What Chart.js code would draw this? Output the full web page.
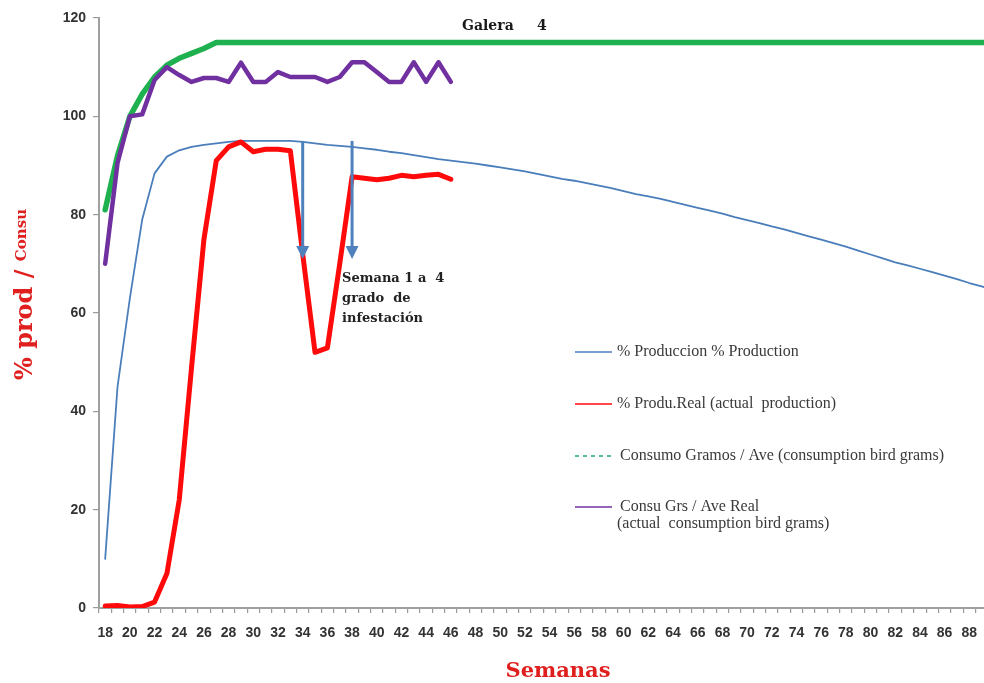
<!DOCTYPE html>
<html>
<head>
<meta charset="utf-8">
<script src="https://cdn.jsdelivr.net/npm/chart.js@4/dist/chart.umd.min.js"></script>
<style>
  html, body { margin: 0; padding: 0; background: #fff; overflow: hidden; }
  #wrap { width: 984px; height: 683px; overflow: hidden; }
  #c { display: block; }
</style>
</head>
<body>
<div id="wrap"><canvas id="c" width="1006" height="683"></canvas></div>
<script>
// ---- Data ----
const weeks = [];
for (let w = 18; w <= 90; w++) weeks.push(w);
const lastLabelledWeek = 88;

const produccionStd = [
  10, 45, 63, 79, 88.4, 91.8, 93.1, 93.8, 94.2, 94.5,
  94.8, 95, 95, 95, 95, 95, 94.8, 94.5, 94.2, 94.0,
  93.8, 93.5, 93.2, 92.8, 92.5, 92.1, 91.7, 91.3, 91.0, 90.7,
  90.4, 90.0, 89.6, 89.2, 88.8, 88.3, 87.8, 87.3, 86.9, 86.4,
  85.9, 85.4, 84.8, 84.2, 83.7, 83.2, 82.6, 82.0, 81.4, 80.8,
  80.2, 79.5, 78.9, 78.3, 77.6, 77.0, 76.3, 75.6, 74.9, 74.2,
  73.5, 72.7, 71.9, 71.1, 70.3, 69.7, 69.0, 68.3, 67.6, 66.9,
  66.1, 65.4, 64.6
];
const produReal = [
  0.4, 0.5, 0.2, 0.3, 1.2, 7, 22, 49, 75, 91,
  93.8, 94.8, 92.8, 93.3, 93.3, 93.0, 72, 52, 52.9, 70,
  87.7, 87.4, 87.1, 87.4, 88, 87.7, 88, 88.2, 87.2
];
const consumoStd = [
  81, 92, 100, 104.5, 108, 110.4, 111.8, 112.8, 113.8, 115,
  115, 115, 115, 115, 115, 115, 115, 115, 115, 115,
  115, 115, 115, 115, 115, 115, 115, 115, 115, 115,
  115, 115, 115, 115, 115, 115, 115, 115, 115, 115,
  115, 115, 115, 115, 115, 115, 115, 115, 115, 115,
  115, 115, 115, 115, 115, 115, 115, 115, 115, 115,
  115, 115, 115, 115, 115, 115, 115, 115, 115, 115,
  115, 115, 115
];
const consumoReal = [
  70, 90.5, 100, 100.4, 107.4, 110, 108.4, 107, 107.8, 107.8,
  107, 110.9, 107, 107, 109, 108, 108, 108, 107, 108,
  111, 111, 109, 107, 107, 111, 107, 111, 107
];
const yTicks = [0, 20, 40, 60, 80, 100, 120];
const seriesNames = [
  '% Produccion % Production',
  '% Produ.Real (actual  production)',
  'Consumo Gramos / Ave (consumption bird grams)',
  'Consu Grs / Ave Real'
];
const arrowWeeks = [34, 38];
const arrowFrom = 95;
const arrowTo = 71;

// ---- Colors ----
const C_BLUE = '#4a7ebb', C_RED = '#ff0a0a', C_GREEN = '#1fb04f', C_PURPLE = '#7030a0';

const overlay = {
  id: 'overlay',
  afterDatasetsDraw(chart) {
    const ctx = chart.ctx;
    const xs = chart.scales.x, ys = chart.scales.y;
    ctx.save();
    ctx.strokeStyle = '#4f81bd';
    ctx.fillStyle = '#4f81bd';
    ctx.lineWidth = 3;
    arrowWeeks.forEach(w => {
      const x = xs.getPixelForValue(weeks.indexOf(w));
      const y1 = ys.getPixelForValue(arrowFrom);
      const y2 = ys.getPixelForValue(arrowTo);
      ctx.beginPath();
      ctx.moveTo(x, y1);
      ctx.lineTo(x, y2 - 12);
      ctx.stroke();
      ctx.beginPath();
      ctx.moveTo(x - 6.5, y2 - 13);
      ctx.lineTo(x + 6.5, y2 - 13);
      ctx.lineTo(x, y2);
      ctx.closePath();
      ctx.fill();
    });
    ctx.restore();
  },
  afterDraw(chart) {
    const ctx = chart.ctx;
    const xs = chart.scales.x, ys = chart.scales.y;
    ctx.save();
    // annotation
    ctx.fillStyle = '#222';
    ctx.font = 'bold 13px "DejaVu Serif"';
    ctx.textBaseline = 'middle';
    ctx.textAlign = 'left';
    const ax = xs.getPixelForValue(weeks.indexOf(arrowWeeks[1])) - 10;
    const ay = ys.getPixelForValue(67);
    ctx.fillText('Semana 1 a  4', ax, ay);
    ctx.fillText('grado  de', ax, ay + 20);
    ctx.fillText('infestación', ax, ay + 40);

    // Galera 4
    ctx.fillStyle = '#1a1a1a';
    ctx.font = 'bold 14px "DejaVu Serif"';
    ctx.fillText('Galera', 462, 26);
    ctx.fillText('4', 537, 26);

    // x title
    ctx.fillStyle = '#e0201f';
    ctx.font = 'bold 21px "DejaVu Serif"';
    ctx.textAlign = 'center';
    ctx.textBaseline = 'alphabetic';
    ctx.fillText('Semanas', 558, 677);

    // y title
    ctx.save();
    ctx.translate(0, 380);
    ctx.rotate(-Math.PI / 2);
    ctx.textAlign = 'left';
    ctx.font = 'bold 24px "DejaVu Serif"';
    const big = '% prod / ';
    ctx.fillText(big, 0, 32);
    const wb = ctx.measureText(big).width;
    ctx.font = 'bold 15px "DejaVu Serif"';
    ctx.fillText('Consu', wb, 26);
    ctx.restore();

    // legend
    const rows = [352, 404, 456, 507];
    const cols = [C_BLUE, C_RED, '#2fb07a', C_PURPLE];
    ctx.font = '16px "Liberation Serif"';
    ctx.textAlign = 'left';
    ctx.textBaseline = 'middle';
    rows.forEach((y, i) => {
      ctx.strokeStyle = cols[i];
      ctx.lineWidth = 1.6;
      ctx.setLineDash(i === 2 ? [4, 4] : []);
      ctx.beginPath();
      ctx.moveTo(575, y);
      ctx.lineTo(612, y);
      ctx.stroke();
      ctx.setLineDash([]);
      ctx.fillStyle = '#3a3a3a';
      ctx.fillText(seriesNames[i], i >= 2 ? 620 : 617, y);
    });
    ctx.fillText('(actual  consumption bird grams)', 617, 524);
    ctx.restore();
  }
};

const common = { pointRadius: 0, pointHoverRadius: 0, tension: 0, fill: false,
  borderJoinStyle: 'round', borderCapStyle: 'round' };

new Chart(document.getElementById('c'), {
  type: 'line',
  data: {
    labels: weeks.map(String),
    datasets: [
      Object.assign({ label: seriesNames[0], data: produccionStd, borderColor: C_BLUE, borderWidth: 1.8, order: 4 }, common),
      Object.assign({ label: seriesNames[1], data: produReal, borderColor: C_RED, borderWidth: 5, order: 1 }, common),
      Object.assign({ label: seriesNames[2], data: consumoStd, borderColor: C_GREEN, borderWidth: 5.5, order: 3 }, common),
      Object.assign({ label: seriesNames[3], data: consumoReal, borderColor: C_PURPLE, borderWidth: 4.5, order: 2 }, common)
    ]
  },
  options: {
    responsive: false,
    animation: false,
    events: [],
    layout: { padding: { top: 18, right: 0, left: 0, bottom: 0 } },
    plugins: { legend: { display: false }, tooltip: { enabled: false }, title: { display: false } },
    scales: {
      x: {
        type: 'category',
        offset: true,
        grid: { display: true, drawOnChartArea: false, drawTicks: true, tickLength: 5, color: '#9a9a9a', offset: true, lineWidth: 1.2 },
        border: { display: true, color: '#a0a0a0', width: 2 },
        ticks: {
          autoSkip: false, maxRotation: 0, minRotation: 0, padding: 12,
          color: '#333', font: { family: '"Liberation Sans", Arial, sans-serif', size: 14, weight: 'bold' },
          callback: (v, i) => (weeks[i] % 2 === 0 && weeks[i] <= lastLabelledWeek ? String(weeks[i]) : '')
        },
        afterFit: s => { s.height = 75; }
      },
      y: {
        min: 0, max: 120,
        afterBuildTicks: s => { s.ticks = yTicks.map(v => ({ value: v })); },
        grid: { display: true, drawOnChartArea: false, drawTicks: true, tickLength: 6, color: '#9a9a9a', lineWidth: 1.2 },
        border: { display: true, color: '#a0a0a0', width: 2 },
        ticks: {
          padding: 7, color: '#333',
          font: { family: '"Liberation Sans", Arial, sans-serif', size: 14, weight: 'bold' }
        },
        afterFit: s => { s.width = 99; }
      }
    }
  },
  plugins: [overlay]
});
</script>
</body>
</html>
